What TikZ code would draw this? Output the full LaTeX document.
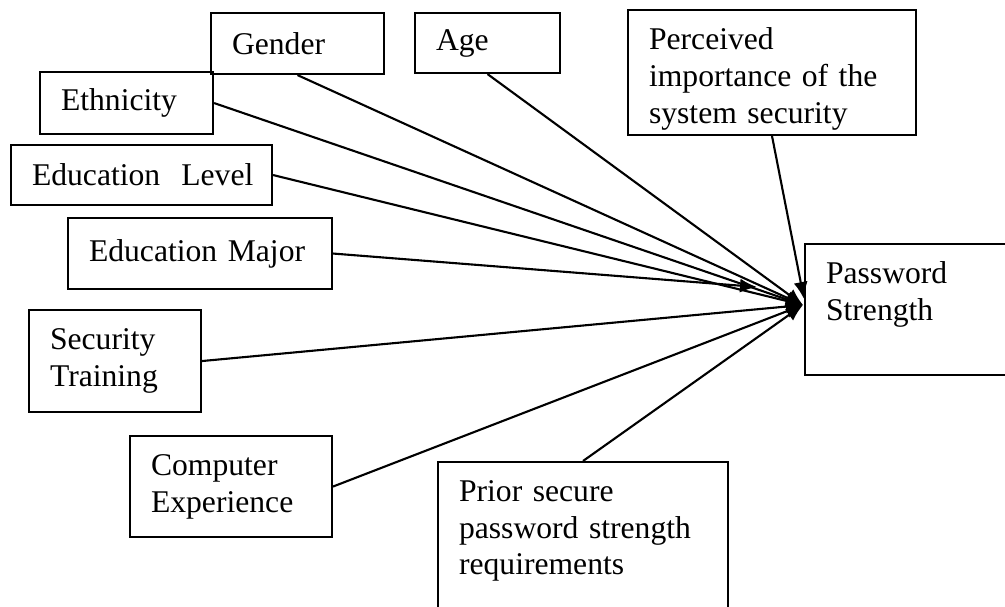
\documentclass[tikz,border=0pt]{standalone}
\usepackage{fontspec}
\setmainfont{Liberation Serif}
\usetikzlibrary{arrows.meta}

\begin{document}
\begin{tikzpicture}[
  x=0.02cm, y=-0.02cm,
  font=\fontsize{18}{21}\selectfont,
  >={Latex[length=0.34cm, width=0.28cm]},
  factor/.style={draw, line width=1.2pt, anchor=north west, align=left, inner ysep=0pt, inner xsep=0.42cm},
  link/.style={->, line width=1.2pt},
]

% ---- page frame (same proportions as the scan, boxes cut at the edges) ----
\useasboundingbox (0,0) rectangle (1005,607);
\clip (0,0) rectangle (1005,607);

% ============================================================
% FACTOR BOXES (north-west corners in scan pixels)
% ============================================================
\node[factor, text width=2.62cm, minimum height=1.22cm] (gender)     at (210,12)  {Gender};
\node[factor, text width=2.06cm, minimum height=1.20cm] (age)        at (414,12)  {Age};
\node[factor, text width=4.92cm, minimum height=2.50cm, text height=0.68cm] (perceived) at (627,9)
  {Perceived\\importance of the\\system security};
\node[factor, text width=2.62cm, minimum height=1.24cm] (ethnicity)  at (39,71)   {Ethnicity};
\node[factor, text width=4.38cm, minimum height=1.20cm] (edulevel)   at (10,144)  {\mbox{Education\ \ Level}};
\node[factor, text width=4.44cm, minimum height=1.42cm] (edumajor)   at (67,217)  {Education Major};
\node[factor, text width=2.60cm, minimum height=2.04cm] (training)   at (28,309)  {Security\\Training};
\node[factor, text width=3.20cm, minimum height=2.02cm] (experience) at (129,435) {Computer\\Experience};
\node[factor, text width=4.96cm, minimum height=3.36cm] (prior)      at (437,461)
  {Prior secure\\password strength\\requirements\\\mbox{}};

% outcome (right edge runs off the page)
\node[factor, text width=3.38cm, minimum height=2.62cm] (strength)   at (804,243)
  {Password\\Strength\\\mbox{}};

% ============================================================
% ARROWS (all meet at the left side of the outcome box)
% ============================================================
\coordinate (hub)      at (803,305);
\coordinate (hubtop)   at (804,299);
\coordinate (majorend) at (757,287);

\draw[link] (gender.south)    -- (hub);
\draw[link] (age.south)       -- (hub);
\draw[link] (perceived.south) -- (hubtop);
\draw[link] (ethnicity.east)  -- (hub);
\draw[link] (edulevel.east)   -- (hub);
\draw[link] (edumajor.east)   -- (majorend);
\draw[link] (training.east)   -- (hub);
\draw[link] (experience.east) -- (hub);
\draw[link] (prior.north)     -- (hub);

\end{tikzpicture}
\end{document}
